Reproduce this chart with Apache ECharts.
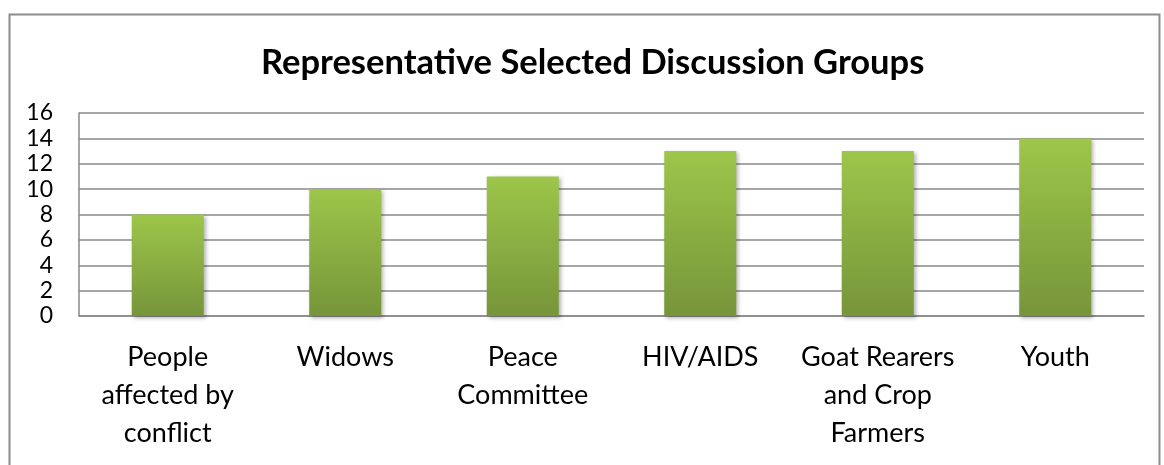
<!DOCTYPE html>
<html>
<head>
<meta charset="utf-8">
<script src="https://cdn.jsdelivr.net/npm/echarts@6/dist/echarts.min.js"></script>
<style>
  html, body { margin: 0; padding: 0; background: #fff; }
  #chart { width: 1164px; height: 465px; }
</style>
</head>
<body>
<div id="chart"></div>
<script>
// Discussion groups and the number of participants in each
const groups = [
  'People\naffected by\nconflict',
  'Widows',
  'Peace\nCommittee',
  'HIV/AIDS',
  'Goat Rearers\nand Crop\nFarmers',
  'Youth'
];
const participants = [8, 10, 11, 13, 13, 14];
const titleText = 'Representative Selected Discussion Groups';

const chart = echarts.init(document.getElementById('chart'));
chart.setOption({
  animation: false,
  backgroundColor: '#fff',
  graphic: [{
    type: 'rect',
    shape: { x: 9.5, y: 14.5, width: 1150, height: 470 },
    style: { fill: 'none', stroke: '#8c8c8c', lineWidth: 2 },
    silent: true
  }],
  title: {
    text: titleText,
    left: 256,
    top: 40,
    textStyle: { fontFamily: 'Lato', fontWeight: 'bold', fontSize: 34.5, color: '#000' }
  },
  grid: { left: 79, right: 20, top: 113, bottom: 149, containLabel: false },
  xAxis: {
    type: 'category',
    data: groups,
    axisLine: { show: true, lineStyle: { color: '#888', width: 1.5 } },
    axisTick: { show: false },
    axisLabel: {
      fontFamily: 'Lato',
      fontSize: 27,
      color: '#000',
      lineHeight: 38,
      margin: 22,
      interval: 0,
      align: 'center'
    }
  },
  yAxis: {
    type: 'value',
    min: 0,
    max: 16,
    interval: 2,
    axisLine: { show: true, lineStyle: { color: '#888', width: 1.5 } },
    axisTick: { show: false },
    axisLabel: { fontFamily: 'Lato', fontSize: 23, color: '#000', margin: 26 },
    splitLine: { show: true, lineStyle: { color: '#888', width: 1.5 } }
  },
  series: [{
    type: 'bar',
    data: participants,
    barWidth: 72,
    itemStyle: {
      color: new echarts.graphic.LinearGradient(0, 0, 0, 1, [
        { offset: 0, color: '#9dc64a' },
        { offset: 1, color: '#76953a' }
      ]),
      shadowColor: 'rgba(0,0,0,0.3)',
      shadowBlur: 4,
      shadowOffsetX: 2,
      shadowOffsetY: 2
    }
  }]
});
</script>
</body>
</html>
